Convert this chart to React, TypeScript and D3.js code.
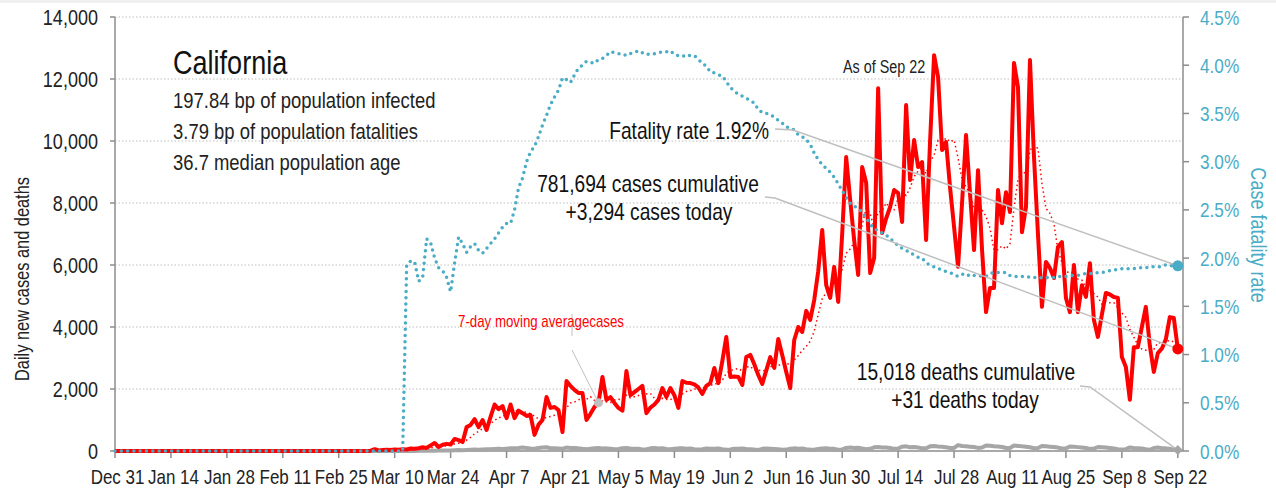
import React from "react";
import * as d3 from "d3";

// ---- Data (daily, Dec 31 2019 = index 0 ... Sep 22 2020 = index 266) ----
const TICK_LABELS = ["Dec 31","Jan 14","Jan 28","Feb 11","Feb 25","Mar 10","Mar 24","Apr 7","Apr 21","May 5","May 19","Jun 2","Jun 16","Jun 30","Jul 14","Jul 28","Aug 11","Aug 25","Sep 8","Sep 22"];
const Y_TICKS = [0, 2000, 4000, 6000, 8000, 10000, 12000, 14000];
const YR_TICKS = [0, 0.5, 1, 1.5, 2, 2.5, 3, 3.5, 4, 4.5];

const dailyCases = [
  0,0,0,0,0,0,0,0,0,0,
  0,0,0,0,0,0,0,0,0,0,
  0,0,0,0,0,0,0,0,0,0,
  0,0,0,0,0,0,0,0,0,0,
  0,0,0,0,0,0,0,0,0,0,
  0,0,0,0,0,0,0,0,0,0,
  0,0,0,0,
  10,60,20,30,40,30,50,40,60,50,
  80,70,90,120,100,180,260,130,200,230,
  210,390,350,290,770,840,1030,770,1000,680,
  1100,1500,1350,1450,1060,1500,1060,1300,1220,1130,
  1160,520,850,1000,1740,1390,1420,1320,610,2260,
  2100,1970,1870,1870,1000,1200,1420,1550,2390,1650,
  1740,1550,1390,1300,2580,1800,1900,2000,2100,1220,
  1400,1500,1650,2030,1740,2030,1800,1390,2260,2200,
  2190,2150,2050,1840,2100,2190,2680,2190,2900,3680,
  2390,2400,2390,2130,3030,3100,2800,2450,2160,2600,
  3030,2680,3610,3100,2550,2030,3580,4000,3840,4520,
  4230,4870,5800,7130,5350,4940,5940,4810,7000,9480,
  8100,6800,5680,9160,8650,5740,6230,11700,7030,7500,
  7870,8420,8320,7390,11160,8740,10030,9160,9320,6810,
  10000,12770,12060,9710,9970,8500,7230,5940,8000,10190,
  8300,6480,9060,6500,4480,5260,5260,8420,7350,8350,
  7710,12520,11740,7060,7870,12610,9500,7000,4650,6100,
  5900,5580,6580,6740,4940,4480,6000,4480,5350,4970,
  6060,4230,3680,4400,5100,5050,4970,4940,3030,2710,
  1650,3350,3350,4000,4650,3400,2550,3160,3300,3600,
  4320,4290,3294
];

const dailyDeaths = [
  0,0,0,0,0,0,0,0,0,0,
  0,0,0,0,0,0,0,0,0,0,
  0,0,0,0,0,0,0,0,0,0,
  0,0,0,0,0,0,0,0,0,0,
  0,0,0,0,0,0,0,0,0,0,
  0,0,0,0,0,0,0,0,0,0,
  0,0,0,0,
  1,0,0,1,0,2,1,1,2,3,
  5,4,6,8,10,7,12,14,18,16,
  20,25,30,28,35,40,45,38,50,60,
  55,68,70,62,75,90,85,95,110,100,
  80,70,95,115,120,90,85,80,75,110,
  100,95,85,70,60,75,90,95,80,85,
  70,55,65,90,95,80,75,70,50,60,
  85,95,80,90,65,55,70,85,90,75,
  80,60,45,55,80,75,70,85,60,40,
  50,75,70,80,65,60,45,35,70,80,
  75,65,55,40,45,70,85,75,80,60,
  45,40,65,80,90,75,70,40,50,100,
  110,95,105,80,60,70,120,130,110,115,
  100,70,80,140,150,120,130,115,85,90,
  150,160,145,140,120,95,100,190,160,150,
  140,130,100,110,180,170,155,145,130,95,
  100,175,165,150,140,120,90,95,160,150,
  140,130,110,80,85,145,135,125,115,100,
  70,75,130,120,110,100,85,55,50,60,
  115,100,90,80,55,40,95,110,90,85,
  70,45,31
];

// case fatality rate, percent
const fatalityRate = [
  0,0,0,0,0,0,0,0,0,0,
  0,0,0,0,0,0,0,0,0,0,
  0,0,0,0,0,0,0,0,0,0,
  0,0,0,0,0,0,0,0,0,0,
  0,0,0,0,0,0,0,0,0,0,
  0,0,0,0,0,0,0,0,0,0,
  0,0,0,0,0,0,0,0,0,0,
  0,0,0,
  1.93,1.97,1.96,1.76,1.80,2.20,2.16,2.00,1.90,1.87,
  1.80,1.65,1.95,2.22,2.15,2.06,2.12,2.15,2.08,2.05,
  2.10,2.15,2.20,2.26,2.32,2.36,2.36,2.50,2.73,2.83,
  3.00,3.10,3.16,3.26,3.38,3.48,3.59,3.67,3.74,3.87,
  3.85,3.82,3.90,3.97,4.00,4.04,4.03,4.02,4.06,4.07,
  4.10,4.14,4.13,4.12,4.12,4.10,4.12,4.13,4.15,4.13,
  4.11,4.12,4.12,4.13,4.14,4.14,4.15,4.11,4.10,4.09,
  4.11,4.10,4.10,4.06,4.02,3.99,3.93,3.92,3.90,3.89,
  3.83,3.77,3.73,3.70,3.68,3.66,3.63,3.61,3.54,3.51,
  3.50,3.49,3.46,3.43,3.40,3.36,3.35,3.33,3.28,3.26,
  3.23,3.18,3.09,3.02,2.97,2.93,2.89,2.84,2.77,2.70,
  2.63,2.57,2.54,2.51,2.48,2.42,2.35,2.31,2.28,2.26,
  2.24,2.20,2.17,2.13,2.10,2.08,2.06,2.03,2.01,2.00,
  1.95,1.93,1.91,1.89,1.88,1.86,1.85,1.83,1.81,1.83,
  1.84,1.81,1.82,1.82,1.81,1.81,1.84,1.85,1.85,1.85,
  1.85,1.82,1.81,1.81,1.81,1.81,1.80,1.80,1.79,1.80,
  1.80,1.80,1.80,1.81,1.81,1.81,1.82,1.82,1.82,1.83,
  1.84,1.84,1.84,1.85,1.85,1.86,1.87,1.88,1.88,1.89,
  1.89,1.89,1.89,1.90,1.90,1.90,1.91,1.91,1.91,1.91,
  1.93,1.92,1.92,1.92
];

const STATE = "California";
const STATS = ["197.84 bp of population infected", "3.79 bp of population fatalities", "36.7 median population age"];

const FONT = "'Liberation Sans', Arial, sans-serif";
const NARROW = 0.82;
const BLUE = "#4BACC6";
const RED = "#FF0000";
const GREY = "#A6A6A6";
const LEADER = "#BFBFBF";

type TProps = { x: number; y: number; size: number; anchor?: "start" | "middle" | "end"; fill?: string; rotate?: number; children: React.ReactNode };
function NText({ x, y, size, anchor = "start", fill = "#222", rotate = 0, children }: TProps) {
  return (
    <text transform={`translate(${x},${y}) rotate(${rotate}) scale(${NARROW},1)`} textAnchor={anchor} fontSize={size} fill={fill}>
      {children}
    </text>
  );
}

export default function App() {
  const W = 1276, H = 493;
  const x = d3.scaleLinear().domain([0, 267.3]).range([115, 1183]);
  const y = d3.scaleLinear().domain([0, 14000]).range([451, 17]);
  const yR = d3.scaleLinear().domain([0, 4.5]).range([451, 17]);

  const movingAvg: [number, number][] = [];
  for (let i = 6; i < dailyCases.length; i++) {
    movingAvg.push([i, d3.mean(dailyCases.slice(i - 6, i + 1)) as number]);
  }

  const lineY = d3.line<number>().x((_, i) => x(i)).y((d) => y(d));
  const lineR = d3.line<number>().x((_, i) => x(i)).y((d) => yR(d));
  const lineMA = d3.line<[number, number]>().x((d) => x(d[0])).y((d) => y(d[1]));

  const last = dailyCases.length - 1;
  const lx = x(last);
  const caseEnd: [number, number] = [lx, y(dailyCases[last])];
  const rateEnd: [number, number] = [lx, yR(fatalityRate[fatalityRate.length - 1])];
  const deathEnd: [number, number] = [lx, y(dailyDeaths[dailyDeaths.length - 1])];
  const maPoint = movingAvg.find((d) => d[0] === 121)!;

  return (
    <svg width={W} height={H} style={{ position: "absolute", left: 0, top: 0, background: "#fff" }} fontFamily={FONT}>
      <rect x={0} y={0} width={W} height={3} fill="#f0f0f0" />
      {/* gridlines */}
      {Y_TICKS.filter((t) => t > 0).map((t) => (
        <line key={t} x1={115} x2={1183} y1={y(t)} y2={y(t)} stroke="#BFBFBF" strokeWidth={1} strokeDasharray="1.5 2" />
      ))}
      {/* axes */}
      <line x1={115} x2={115} y1={17} y2={451} stroke="#8C8C8C" strokeWidth={1.5} />
      <line x1={1183} x2={1183} y1={17} y2={451} stroke="#8C8C8C" strokeWidth={1.5} />
      <line x1={115} x2={1183} y1={451} y2={451} stroke="#8C8C8C" strokeWidth={1.5} />
      {Y_TICKS.map((t) => (
        <g key={"yl" + t}>
          <line x1={110} x2={115} y1={y(t)} y2={y(t)} stroke="#8C8C8C" strokeWidth={1.5} />
          <NText x={98} y={y(t) + 7.5} anchor="end" size={22}>{d3.format(",")(t)}</NText>
        </g>
      ))}
      {YR_TICKS.map((t) => (
        <g key={"yr" + t}>
          <line x1={1183} x2={1189} y1={yR(t)} y2={yR(t)} stroke="#8C8C8C" strokeWidth={1.5} />
          <NText x={1200} y={yR(t) + 7.5} size={21} fill={BLUE}>{t.toFixed(1) + "%"}</NText>
        </g>
      ))}
      {TICK_LABELS.map((lab, i) => (
        <g key={lab}>
          <line x1={x(i * 14)} x2={x(i * 14)} y1={451} y2={458} stroke="#8C8C8C" strokeWidth={1.5} />
          <NText x={x(i * 14) + 2.5} y={484} anchor="middle" size={20.7}>{lab}</NText>
        </g>
      ))}
      <NText x={29} y={279} rotate={-90} anchor="middle" size={20}>Daily new cases and deaths</NText>
      <NText x={1251} y={235} rotate={90} anchor="middle" size={22} fill={BLUE}>Case fatality rate</NText>

      {/* series */}
      <path d={lineY(dailyDeaths) || ""} fill="none" stroke={GREY} strokeWidth={4} strokeLinejoin="round" />
      <path d={lineY(dailyCases) || ""} fill="none" stroke={RED} strokeWidth={4} strokeLinejoin="round" />
      <path d={lineMA(movingAvg) || ""} fill="none" stroke={RED} strokeWidth={1.5} strokeDasharray="1.5 3" />
      <path d={lineR(fatalityRate) || ""} fill="none" stroke={BLUE} strokeWidth={3.5} strokeDasharray="0 6.3" strokeLinecap="round" />

      {/* leaders */}
      <polyline points={`775,129 793,130 ${rateEnd[0]},${rateEnd[1]}`} fill="none" stroke={LEADER} strokeWidth={1.5} />
      <polyline points={`765,197 775,198 ${caseEnd[0]},${caseEnd[1]}`} fill="none" stroke={LEADER} strokeWidth={1.5} />
      <polyline points={`1080,386 1090,387 ${deathEnd[0]},${deathEnd[1]}`} fill="none" stroke={LEADER} strokeWidth={1.5} />
      <line x1={572} x2={572} y1={314} y2={336} stroke={LEADER} strokeWidth={1} />
      <line x1={572} y1={350} x2={x(maPoint[0])} y2={y(maPoint[1])} stroke={LEADER} strokeWidth={1} />
      <circle cx={x(maPoint[0])} cy={y(maPoint[1])} r={4.5} fill="#C0C0C0" />

      {/* end markers */}
      <circle cx={rateEnd[0]} cy={rateEnd[1]} r={5.5} fill={BLUE} />
      <circle cx={caseEnd[0]} cy={caseEnd[1]} r={5.5} fill={RED} />
      <path d={`M${deathEnd[0]},${deathEnd[1] - 5}L${deathEnd[0] + 5},${deathEnd[1]}L${deathEnd[0]},${deathEnd[1] + 5}L${deathEnd[0] - 5},${deathEnd[1]}Z`} fill={GREY} />

      {/* header text */}
      <NText x={173} y={74} size={33} fill="#111">{STATE}</NText>
      {STATS.map((s, i) => (
        <NText key={s} x={173} y={108 + i * 31} size={22.5}>{s}</NText>
      ))}
      <NText x={843} y={73} size={17.5}>As of Sep 22</NText>
      <NText x={769} y={139} anchor="end" size={23.4} fill="#111">Fatality rate 1.92%</NText>
      <NText x={648} y={192} anchor="middle" size={23.4} fill="#111">781,694 cases cumulative</NText>
      <NText x={649} y={220} anchor="middle" size={23.4} fill="#111">+3,294 cases today</NText>
      <NText x={966} y={380} anchor="middle" size={23.4} fill="#111">15,018 deaths cumulative</NText>
      <NText x={965} y={408} anchor="middle" size={23.4} fill="#111">+31 deaths today</NText>
      <NText x={458} y={327} size={16.2} fill={RED}>7-day moving averagecases</NText>
    </svg>
  );
}
